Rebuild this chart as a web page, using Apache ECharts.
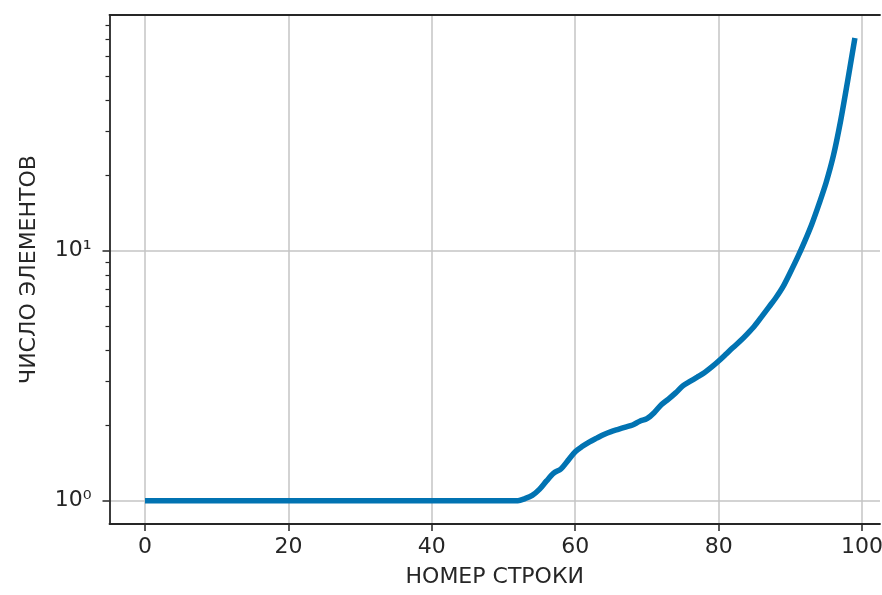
<!DOCTYPE html>
<html>
<head>
<meta charset="utf-8">
<script src="https://cdn.jsdelivr.net/npm/echarts@6/dist/echarts.min.js"></script>
<style>
  html, body { margin: 0; padding: 0; background: #fff; }
  #main { width: 882px; height: 595px; }
</style>
</head>
<body>
<div id="main"></div>
<script>
// row number 0..99
const rows = [];
for (let i = 0; i < 100; i++) rows.push(i);

// number of elements per row
const counts = [
  1, 1, 1, 1, 1, 1, 1, 1, 1, 1,
  1, 1, 1, 1, 1, 1, 1, 1, 1, 1,
  1, 1, 1, 1, 1, 1, 1, 1, 1, 1,
  1, 1, 1, 1, 1, 1, 1, 1, 1, 1,
  1, 1, 1, 1, 1, 1, 1, 1, 1, 1,
  1, 1, 1, 1.02, 1.05, 1.11, 1.2, 1.29, 1.34, 1.45,
  1.57, 1.65, 1.72, 1.78, 1.84, 1.89, 1.93, 1.97, 2.01, 2.08,
  2.13, 2.25, 2.42, 2.55, 2.7, 2.88, 3.0, 3.12, 3.25, 3.42,
  3.62, 3.85, 4.1, 4.35, 4.65, 5.0, 5.45, 5.95, 6.5, 7.2,
  8.2, 9.4, 10.9, 12.8, 15.4, 18.8, 24.0, 33.0, 48.0, 71.0
];

const xTicks = [0, 20, 40, 60, 80, 100];
const yMajor = [1, 10];
const yMinor = [2, 3, 4, 5, 6, 7, 8, 9, 20, 30, 40, 50, 60, 70, 80];
const sup = { 0: '\u2070', 1: '\u00b9' };

const ink = '#262626';
const font = 'DejaVu Sans';
const xMin = -4.95, xMax = 102.5;
const yMin = 0.807, yMax = 87.7;

const myChart = echarts.init(document.getElementById('main'));

const option = {
  animation: false,
  backgroundColor: '#fff',
  grid: { left: 109.5, right: 2, top: 15, bottom: 71, outerBoundsMode: 'none' },
  xAxis: [
    {
      type: 'value',
      min: xMin,
      max: xMax,
      name: 'НОМЕР СТРОКИ',
      nameLocation: 'middle',
      nameGap: 42,
      nameTextStyle: { fontFamily: font, fontSize: 22, color: ink },
      axisLine: { show: true, onZero: false, lineStyle: { color: ink, width: 1.8 } },
      axisTick: { show: true, length: 7, customValues: xTicks, lineStyle: { color: ink, width: 1.5 } },
      axisLabel: { customValues: xTicks, margin: 12, fontFamily: font, fontSize: 22, color: ink },
      splitLine: { show: true, lineStyle: { color: '#c4c4c4', width: 1.5 } }
    },
    {
      // top spine only
      type: 'value',
      position: 'top',
      min: xMin,
      max: xMax,
      axisLine: { show: true, onZero: false, lineStyle: { color: ink, width: 1.8 } },
      axisTick: { show: false },
      axisLabel: { show: false },
      splitLine: { show: false }
    }
  ],
  yAxis: [
    {
      type: 'log',
      logBase: 10,
      min: yMin,
      max: yMax,
      name: 'ЧИСЛО ЭЛЕМЕНТОВ',
      nameLocation: 'middle',
      nameGap: 69,
      nameTextStyle: { fontFamily: font, fontSize: 22, color: ink },
      axisLine: { show: true, onZero: false, lineStyle: { color: ink, width: 1.8 } },
      axisTick: { show: true, length: 7, customValues: yMajor, lineStyle: { color: ink, width: 1.5 } },
      axisLabel: {
        customValues: yMajor, margin: 18, fontFamily: font, fontSize: 22, color: ink,
        formatter: v => '10' + sup[Math.round(Math.log10(v))]
      },
      splitLine: { show: true, lineStyle: { color: '#c4c4c4', width: 1.5 } }
    },
    {
      // minor ticks
      type: 'log',
      logBase: 10,
      min: yMin,
      max: yMax,
      position: 'left',
      axisLine: { show: false, onZero: false },
      axisTick: { show: true, length: 4, customValues: yMinor, lineStyle: { color: ink, width: 1.2 } },
      axisLabel: { show: false },
      splitLine: { show: false }
    }
  ],
  series: [
    {
      type: 'line',
      xAxisIndex: 0,
      yAxisIndex: 0,
      data: rows.map((r, i) => [r, counts[i]]),
      showSymbol: false,
      smooth: 0.3,
      lineStyle: { color: '#0173b2', width: 5.5 },
      itemStyle: { color: '#0173b2' }
    }
  ]
};

myChart.setOption(option);
</script>
</body>
</html>
